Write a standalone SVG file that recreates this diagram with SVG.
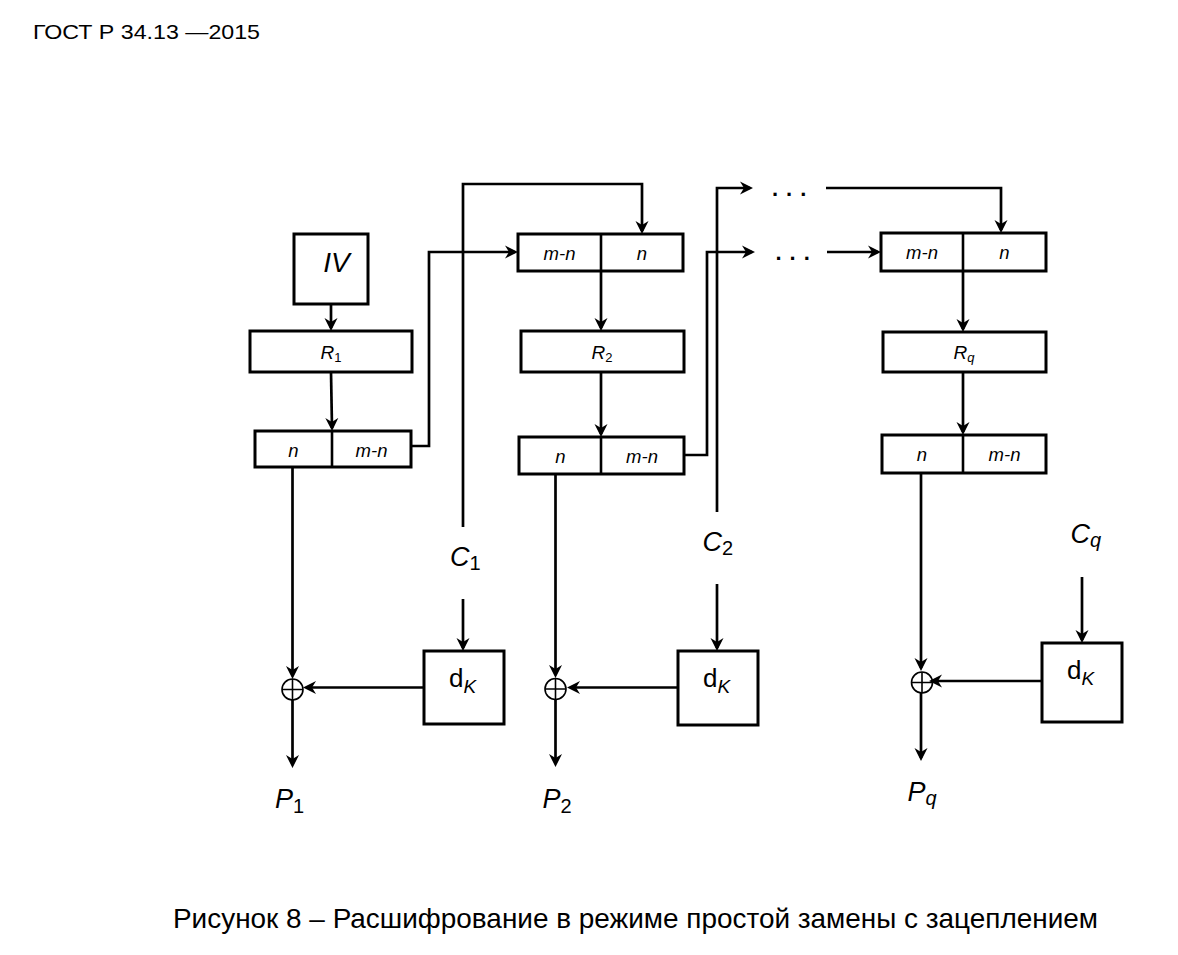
<svg xmlns="http://www.w3.org/2000/svg" width="1178" height="955" viewBox="0 0 1178 955">
<style>
.box{fill:#fff;stroke:#000;stroke-width:3}
.div{stroke:#000;stroke-width:2.6}
.ln{fill:none;stroke:#000;stroke-width:2.7;marker-end:url(#ah)}
.xor{fill:none;stroke:#000;stroke-width:1.6}
text{font-family:"Liberation Sans",Arial,sans-serif;fill:#000}
.it{font-style:italic}
.sm{font-size:18.5px;font-style:italic}
.big{font-size:27px;font-style:italic}
.dots{font-size:22px;font-weight:bold;letter-spacing:8px}
.dk{font-size:26px}
</style>
<defs>
<marker id="ah" markerUnits="userSpaceOnUse" markerWidth="14" markerHeight="14" viewBox="0 0 14 14" refX="10" refY="7" orient="auto">
<path d="M0,0.5 L13,7 L0,13.5 L4,7 Z" fill="#000"/>
</marker>
</defs>
<rect width="1178" height="955" fill="#fff"/>
<text x="33" y="39" font-size="21" textLength="227" lengthAdjust="spacingAndGlyphs">ГОСТ Р 34.13 —2015</text>

<g id="connectors">
<path class="ln" d="M331,305 V328"/>
<path class="ln" d="M331,372 L332,428"/>
<path class="ln" d="M411,446 H429 V252 H515"/>
<path class="ln" d="M463,527 V184 H642 V231"/>
<path class="ln" d="M463,599 V648"/>
<path class="ln" d="M424,687.5 H306"/>
<path class="ln" d="M292.5,467 V676"/>
<path class="ln" d="M292.5,700 V765"/>
<path class="ln" d="M601,271 V328"/>
<path class="ln" d="M601,372 V434"/>
<path class="ln" d="M684,455 H707 V252 H752"/>
<path class="ln" d="M717,512 V188 H750"/>
<path class="ln" d="M826,188 H1001 V230"/>
<path class="ln" d="M827,252 H878"/>
<path class="ln" d="M963,271 V329"/>
<path class="ln" d="M963,372 V432"/>
<path class="ln" d="M921,473 V668"/>
<path class="ln" d="M717,584 V648"/>
<path class="ln" d="M678,687.5 H570"/>
<path class="ln" d="M555.5,474 V675"/>
<path class="ln" d="M555.5,700 V764"/>
<path class="ln" d="M1082,577 V640"/>
<path class="ln" d="M1042,681 H932"/>
<path class="ln" d="M921,693 V758"/>
</g>

<g id="dots">
<text x="772" y="196" class="dots">...</text>
<text x="775.5" y="259.5" class="dots">...</text>
</g>

<g id="iv">
<rect class="box" x="294" y="234" width="74" height="70"/>
<text x="336.5" y="271.5" font-size="28" class="it" text-anchor="middle">IV</text>
</g>
<g id="r1">
<rect class="box" x="250" y="331" width="162" height="41"/>
<text x="331" y="358.5" class="it" font-size="19" text-anchor="middle">R<tspan font-size="13" font-style="normal" dy="3">1</tspan></text>
</g>
<g id="split1">
<rect class="box" x="255" y="431" width="156" height="36"/>
<line class="div" x1="332" y1="431" x2="332" y2="467"/>
<text x="293.5" y="456.5" class="sm" text-anchor="middle">n</text>
<text x="371.5" y="456.5" class="sm" text-anchor="middle">m-n</text>
</g>
<g id="in2">
<rect class="box" x="518" y="234" width="165" height="37"/>
<line class="div" x1="601" y1="234" x2="601" y2="271"/>
<text x="559.5" y="259.5" class="sm" text-anchor="middle">m-n</text>
<text x="642" y="259.5" class="sm" text-anchor="middle">n</text>
</g>
<g id="r2">
<rect class="box" x="521" y="331" width="163" height="41"/>
<text x="602" y="358.5" class="it" font-size="19" text-anchor="middle">R<tspan font-size="13" font-style="normal" dy="3">2</tspan></text>
</g>
<g id="split2">
<rect class="box" x="519" y="437" width="165" height="37"/>
<line class="div" x1="601" y1="437" x2="601" y2="474"/>
<text x="560.5" y="463" class="sm" text-anchor="middle">n</text>
<text x="642" y="463" class="sm" text-anchor="middle">m-n</text>
</g>
<g id="inq">
<rect class="box" x="881" y="233" width="165" height="38"/>
<line class="div" x1="963" y1="233" x2="963" y2="271"/>
<text x="922" y="259" class="sm" text-anchor="middle">m-n</text>
<text x="1004.5" y="259" class="sm" text-anchor="middle">n</text>
</g>
<g id="rq">
<rect class="box" x="883" y="332" width="163" height="40"/>
<text x="964" y="358.5" class="it" font-size="19" text-anchor="middle">R<tspan font-size="13" dy="3">q</tspan></text>
</g>
<g id="splitq">
<rect class="box" x="882" y="435" width="164" height="38"/>
<line class="div" x1="963" y1="435" x2="963" y2="473"/>
<text x="922" y="461" class="sm" text-anchor="middle">n</text>
<text x="1004.5" y="461" class="sm" text-anchor="middle">m-n</text>
</g>

<g id="c1"><text x="450" y="566" class="big">C<tspan font-size="20" font-style="normal" dy="4">1</tspan></text></g>
<g id="c2"><text x="702.5" y="551" class="big">C<tspan font-size="20" font-style="normal" dy="4">2</tspan></text></g>
<g id="cq"><text x="1070.5" y="543" class="big">C<tspan font-size="20" dy="4">q</tspan></text></g>

<g id="dk1">
<rect class="box" x="424" y="651" width="80" height="73"/>
<text x="449" y="687" class="dk">d<tspan font-size="19" font-style="italic" dy="6">K</tspan></text>
</g>
<g id="dk2">
<rect class="box" x="678" y="651" width="80" height="74"/>
<text x="703" y="687" class="dk">d<tspan font-size="19" font-style="italic" dy="6">K</tspan></text>
</g>
<g id="dkq">
<rect class="box" x="1042" y="643" width="80" height="79"/>
<text x="1067" y="679" class="dk">d<tspan font-size="19" font-style="italic" dy="6">K</tspan></text>
</g>

<g id="xor1">
<circle class="xor" cx="292.5" cy="689.5" r="10.5"/>
<path class="xor" d="M282,689.5 H303 M292.5,679 V700"/>
</g>
<g id="xor2">
<circle class="xor" cx="555.5" cy="689" r="10.5"/>
<path class="xor" d="M545,689 H566 M555.5,678.5 V699.5"/>
</g>
<g id="xorq">
<circle class="xor" cx="922" cy="682.5" r="10.5"/>
<path class="xor" d="M911.5,682.5 H932.5 M922,672 V693"/>
</g>

<g id="p1"><text x="275" y="808" class="big">P<tspan font-size="20" font-style="normal" dy="5">1</tspan></text></g>
<g id="p2"><text x="542.5" y="808" class="big">P<tspan font-size="20" font-style="normal" dy="5">2</tspan></text></g>
<g id="pq"><text x="907.5" y="800.5" class="big">P<tspan font-size="20" dy="4">q</tspan></text></g>

<text x="173" y="928" font-size="27.5" textLength="925" lengthAdjust="spacingAndGlyphs">Рисунок 8 – Расшифрование в режиме простой замены с зацеплением</text>
</svg>
